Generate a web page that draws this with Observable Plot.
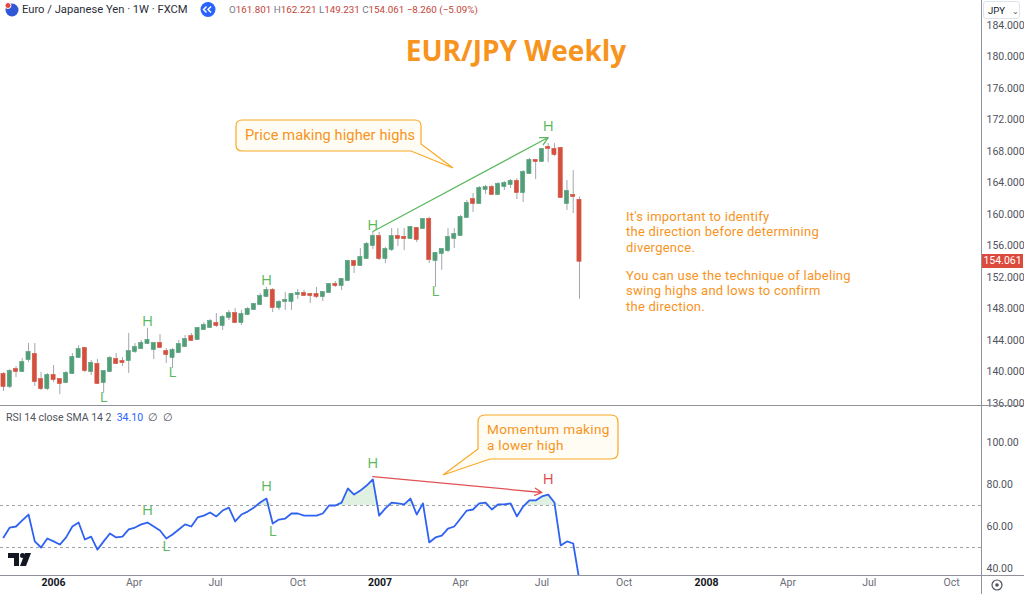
<!DOCTYPE html>
<html>
<head>
<meta charset="utf-8">
<script src="https://cdn.jsdelivr.net/npm/d3@7"></script>
<script src="https://cdn.jsdelivr.net/npm/@observablehq/plot@0.6"></script>
<style>
html,body{margin:0;padding:0;background:#fff;}
#wrap{position:relative;width:1024px;height:594px;overflow:hidden;background:#fff;font-family:Roboto,"Open Sans",sans-serif;}
.abs{position:absolute;white-space:nowrap;}
.note{font-family:Roboto,sans-serif;color:#f7941d;}
</style>
</head>
<body>
<div id="wrap"></div>
<script>
// ---- weekly EUR/JPY candles (Nov 2005 – Aug 2007) ----
const opens = [139.68,138.16,140.31,140.06,141.58,142.22,139.04,137.90,139.55,139.04,
138.66,139.81,141.84,142.98,140.06,140.95,138.66,140.06,141.58,141.33,
141.46,142.60,142.98,143.62,142.85,143.62,142.60,141.84,142.47,143.23,
144.50,144.12,145.39,145.65,146.16,145.90,146.92,147.42,146.28,147.30,
147.93,148.57,149.58,150.35,148.19,148.95,148.95,149.84,149.96,149.84,
149.84,149.58,150.09,151.11,150.98,151.62,154.03,153.52,154.41,156.06,
157.20,154.41,155.55,157.20,157.08,156.95,158.22,158.22,159.36,154.16,
155.04,155.42,156.95,157.33,159.62,161.90,161.39,163.17,163.42,162.54,
163.55,163.81,164.19,162.79,165.20,166.85,166.73,168.50,168.25,168.38,
161.39,162.41,161.801];
const highs = [139.93,140.31,140.70,141.71,143.62,143.62,139.93,139.81,140.82,139.17,
140.06,142.35,143.36,143.11,141.46,141.58,140.19,141.97,142.35,141.84,
144.89,143.62,144.00,145.52,143.74,144.76,142.98,142.98,144.00,144.63,
144.89,145.65,146.28,146.66,147.42,147.17,147.81,148.06,147.81,148.19,
148.70,149.96,150.73,150.60,149.08,150.09,149.96,150.47,150.35,149.96,
150.73,150.22,151.23,151.49,151.87,154.16,154.16,155.68,156.44,157.71,
157.71,155.81,158.22,158.22,158.22,158.47,158.35,159.49,159.62,155.17,
155.68,158.22,158.22,159.87,161.77,162.66,163.55,163.68,163.68,164.06,
164.19,164.44,164.57,165.58,167.11,166.98,168.38,169.01,169.01,168.50,
164.31,165.58,162.221];
const lows = [137.52,137.90,139.30,139.93,141.20,138.16,137.65,137.65,138.66,137.14,
138.54,139.68,141.71,139.93,139.55,138.41,137.27,139.93,140.95,140.70,
139.81,142.35,142.85,143.49,141.58,142.98,141.08,140.44,142.35,143.11,
143.87,144.00,145.27,145.52,145.65,145.27,146.54,146.16,145.90,147.17,
147.81,148.44,149.46,147.55,147.81,147.81,147.81,149.20,149.58,148.70,
149.33,148.95,149.96,150.73,150.35,151.49,152.50,153.39,154.28,155.55,
154.16,153.77,155.30,155.93,155.42,156.82,156.44,158.09,153.77,150.73,
152.89,155.17,155.68,157.20,159.49,160.25,161.27,162.54,162.41,162.41,
163.04,163.30,161.90,161.52,165.08,164.44,166.60,166.60,167.36,162.03,
160.50,160.12,149.231];
const closes = [138.16,140.06,140.06,141.20,142.47,138.79,137.90,139.55,139.04,138.54,
139.81,141.84,142.85,140.19,141.08,138.54,140.06,141.71,141.08,141.20,
142.60,143.11,143.62,144.00,143.62,143.11,142.22,142.73,143.49,144.12,
144.00,145.52,145.90,146.41,145.90,146.92,147.42,146.28,147.30,147.93,
148.57,149.58,150.35,148.19,148.82,149.08,149.84,149.96,149.71,149.71,
149.58,150.09,151.11,150.98,151.74,154.03,153.52,154.54,156.19,157.20,
154.41,155.55,157.20,156.95,156.95,158.35,156.82,159.36,154.28,155.04,
155.55,157.08,157.46,159.62,161.39,161.39,163.30,163.42,162.54,163.81,
163.93,164.19,162.79,165.33,166.85,166.73,168.25,168.38,167.62,162.15,
162.92,162.28,154.061];
// ---- RSI(14) per week ----
const rsi = [54.8,59.5,60.0,62.9,65.7,52.9,50.0,54.3,52.9,51.4,
54.8,60.0,61.9,53.8,55.2,49.0,52.9,56.7,54.8,55.2,
58.6,59.5,61.0,61.9,60.0,58.1,54.3,56.2,58.6,61.0,
60.0,64.3,65.2,66.7,64.8,67.6,69.0,62.4,65.7,67.1,
69.0,71.4,73.3,61.4,63.3,63.8,66.2,66.2,65.2,65.2,
65.2,66.2,70.0,70.0,71.4,78.1,75.2,77.1,79.5,82.4,
65.2,68.6,71.4,71.0,70.5,73.3,65.7,71.0,52.4,54.8,
55.7,59.0,60.0,63.8,67.6,68.1,71.0,71.4,68.1,70.5,
70.5,71.0,64.8,69.5,72.4,72.4,74.3,75.2,71.4,51.0,
52.9,51.9,34.1];
// ---- tick labels ----
const priceTicks = [136,140,144,148,152,156,160,164,168,172,176,180,184];
const rsiTicks = [40,60,80,100];
const rsiBands = [70,50];
const yearTicks = ["2006-01-01","2007-01-01","2008-01-01"];
const monthTicks = ["2006-04-01","2006-07-01","2006-10-01","2007-04-01","2007-07-01","2007-10-01","2008-04-01","2008-07-01","2008-10-01"];
// ---- swing labels (1-based week numbers) ----
const priceHighWeeks = [24,43,60];
const priceTopWeek = [88];
const priceLowWeeks = [17,28,70];
const rsiHighWeeks = [24,43];
const rsiTopWeeks = [60];
const rsiRedWeeks = [88];
const rsiLowWeeks = [27,44];
// ---- divergence trend lines [week, value] ----
const priceTrend = [[60,157.84],[88,169.77]];
const rsiTrend = [[60,83.8],[87,76.2]];
const lastClose = 154.061;
const lastRsi = 34.10;
// ---- annotation texts ----
const noteLines1 = ["It's important to identify","the direction before determining","divergence."];
const noteLines2 = ["You can use the technique of labeling","swing highs and lows to confirm","the direction."];
const calloutPrice = ["Price making higher highs"];
const calloutMomentum = ["Momentum making","a lower high"];

const DAY = 864e5;
const firstWeek = new Date(Date.UTC(2005,10,6));
const bars = opens.map((o,i)=>({date:d3.utcWeek.offset(firstWeek,i),o,h:highs[i],l:lows[i],c:closes[i],r:rsi[i]}));
const wk = n => bars[n-1];
const xDomain = [new Date(+firstWeek - 3.35*DAY), new Date(+firstWeek + 1093.5*DAY)];
const GREEN="#529e79", RED="#d4503e", WICK="#a3a6ae", LG="#5cb860", AXT="#50535e";
const bodyX1 = d=>new Date(+d.date-2.3*DAY), bodyX2 = d=>new Date(+d.date+2.3*DAY);
const up = bars.filter(d=>d.c>=d.o), down = bars.filter(d=>d.c<d.o);
const lbl = {text:()=> "H", fontSize:15, fontFamily:"Open Sans, sans-serif", lineAnchor:"middle"};

const price = Plot.plot({
  width:1024, height:405, marginLeft:0, marginRight:43, marginTop:0, marginBottom:2,
  x:{type:"utc", domain:xDomain, axis:null},
  y:{domain:[136,187.17], axis:null},
  style:{background:"transparent", overflow:"visible", fontFamily:"Roboto, sans-serif"},
  marks:[
    Plot.text(priceTicks,{y:d=>d, frameAnchor:"right", dx:5, textAnchor:"start", text:d=>d.toFixed(3), fill:AXT, fontSize:10.5}),
    Plot.ruleX(bars,{x:"date", y1:"l", y2:"h", stroke:WICK, strokeWidth:1}),
    Plot.rect(up,{x1:bodyX1, x2:bodyX2, y1:"o", y2:"c", fill:GREEN, stroke:GREEN, strokeWidth:0.6, insetTop:-0.5, insetBottom:-0.5}),
    Plot.rect(down,{x1:bodyX1, x2:bodyX2, y1:"o", y2:"c", fill:RED, stroke:RED, strokeWidth:0.6, insetTop:-0.5, insetBottom:-0.5}),
    Plot.arrow([priceTrend],{x1:d=>wk(d[0][0]).date, y1:d=>d[0][1], x2:d=>wk(d[1][0]).date, y2:d=>d[1][1], stroke:"#5cb860", strokeWidth:1.3, headLength:10, headAngle:55}),
    Plot.text(priceHighWeeks.map(wk),{...lbl, x:"date", y:"h", dy:-7, fill:LG}),
    Plot.text(priceTopWeek.map(wk),{...lbl, x:"date", y:"h", dy:-17, fill:LG}),
    Plot.text(priceLowWeeks.map(wk),{...lbl, text:()=>"L", x:"date", y:"l", dy:4, fill:LG})
  ]
});
price.style.position="absolute"; price.style.left="0px"; price.style.top="0px";

const osc = Plot.plot({
  width:1024, height:189, marginLeft:0, marginRight:43, marginTop:0, marginBottom:19,
  x:{type:"utc", domain:xDomain, axis:null},
  y:{domain:[36.67,117.62], axis:null},
  style:{background:"transparent", overflow:"visible", fontFamily:"Roboto, sans-serif"},
  marks:[
    Plot.ruleY(rsiBands,{stroke:"#9598a1", strokeDasharray:"3,3", strokeWidth:0.9}),
    Plot.areaY(bars,{x:"date", y1:()=>70, y2:d=>Math.max(70,d.r), fill:"#66bb6a", fillOpacity:0.2}),
    Plot.lineY(bars,{x:"date", y:"r", stroke:"#2f62f2", strokeWidth:1.8, clip:true}),
    Plot.arrow([rsiTrend],{x1:d=>wk(d[0][0]).date, y1:d=>d[0][1], x2:d=>wk(d[1][0]).date, y2:d=>d[1][1], stroke:"#e05252", strokeWidth:1.3, headLength:9, headAngle:55}),
    Plot.text(rsiHighWeeks.map(wk),{...lbl, x:"date", y:"r", dy:-12, fill:LG}),
    Plot.text(rsiTopWeeks.map(wk),{...lbl, x:"date", y:"r", dy:-16, fill:LG}),
    Plot.text(rsiRedWeeks.map(wk),{...lbl, x:"date", y:"r", dy:-15, fill:"#e04848"}),
    Plot.text(rsiLowWeeks.map(wk),{...lbl, text:()=>"L", x:"date", y:"r", dy:8, fill:LG}),
    Plot.text(rsiTicks,{y:d=>d, frameAnchor:"right", dx:5, textAnchor:"start", text:d=>d.toFixed(2), fill:AXT, fontSize:10.5}),
    Plot.text(yearTicks,{x:d=>new Date(d), frameAnchor:"bottom", dy:10, text:d=>d.slice(0,4), fill:"#131722", fontWeight:"bold", fontSize:10.5}),
    Plot.text(monthTicks,{x:d=>new Date(d), frameAnchor:"bottom", dy:10, text:d=>d3.utcFormat("%b")(new Date(d)), fill:"#6a6d78", fontSize:10.5})
  ]
});
osc.style.position="absolute"; osc.style.left="0px"; osc.style.top="405px";

const wrap = document.getElementById("wrap");
wrap.appendChild(price);
wrap.appendChild(osc);

function add(html){ wrap.insertAdjacentHTML("beforeend", html); }
function lines(arr, left, top, step, style){
  arr.forEach((t,i)=>add(`<div class="abs note" style="left:${left}px;top:${top+i*step}px;${style}">${t}</div>`));
}
// frame lines
add(`<div class="abs" style="left:0;top:405px;width:1024px;height:1px;background:#8f929b"></div>`);
add(`<div class="abs" style="left:0;top:575px;width:1024px;height:1px;background:#8f929b"></div>`);
add(`<div class="abs" style="left:981px;top:0;width:1px;height:594px;background:#8f929b"></div>`);

// last price label
const yLast = price.scale("y").apply(lastClose);
add(`<div class="abs" style="left:982px;top:${yLast-7}px;width:41px;height:14px;background:#dc4a3d;color:#fff;font-size:10.5px;line-height:14px;text-align:center;font-family:Roboto,sans-serif">${lastClose.toFixed(3)}</div>`);
// JPY box
add(`<div class="abs" style="left:983px;top:1px;width:37px;height:18px;background:#fff;border:1px solid #e0e3eb;border-radius:3px;font-size:9.5px;line-height:18px;color:#131722;box-sizing:border-box;padding-left:4px">JPY <span style="font-size:8px;color:#555;margin-left:5px">&#8964;</span></div>`);

// top legend
add(`<svg class="abs" style="left:0;top:0" width="230" height="20">
  <circle cx="12" cy="10" r="6.5" fill="#3057d5"/>
  <circle cx="8" cy="5.5" r="3" fill="#e8453c" stroke="#fff" stroke-width="1"/>
  <circle cx="208" cy="9.5" r="7.5" fill="#2962ff"/>
  <path d="M206.5 6.5 L203.5 9.5 L206.5 12.5 M211 6.5 L208 9.5 L211 12.5" stroke="#fff" stroke-width="1.5" fill="none"/>
</svg>`);
add(`<div class="abs" style="left:22px;top:2px;font-size:11.2px;line-height:15px;color:#2a2e39">Euro / Japanese Yen · 1W · FXCM</div>`);
const o = `<span style="color:#787b86">`;
add(`<div class="abs" style="left:229px;top:3px;font-size:9.8px;line-height:14px;color:#c2463a">${o}O</span>161.801 ${o}H</span>162.221 ${o}L</span>149.231 ${o}C</span>154.061 −8.260 (−5.09%)</div>`);

// RSI legend
add(`<div class="abs" style="left:6px;top:411px;font-size:10.5px;line-height:14px;color:#50535e">RSI 14 close SMA 14 2 &nbsp;<span style="color:#2962ff">${lastRsi.toFixed(2)}</span>&nbsp; ∅ &nbsp;∅</div>`);

// title & notes
add(`<div class="abs" style="left:0;width:1032px;top:30px;text-align:center;font-family:'Open Sans',sans-serif;color:#f7941d;font-size:28px;font-weight:bold;line-height:40px">EUR/JPY Weekly</div>`);
lines(noteLines1, 626, 210, 15.4, "font-size:13px;line-height:14px;letter-spacing:0.25px");
lines(noteLines2, 626, 269, 15.4, "font-size:13px;line-height:14px;letter-spacing:0.25px");

// callouts
add(`<svg class="abs" style="left:0;top:0" width="1024" height="594">
  <path d="M242,120 H415 Q421,120 421,126 V144 L453,168 L411,151 H242 Q236,151 236,145 V126 Q236,120 242,120 Z" fill="#fffcf3" stroke="#f9a825" stroke-width="1.2"/>
  <path d="M485,415 H611 Q618,415 618,422 V452 Q618,459 611,459 H490 L443,475 L478,449 V422 Q478,415 485,415 Z" fill="#fffcf3" stroke="#f9a825" stroke-width="1.2"/>
  <path d="M8,553 H19 V566 H14 V558 H8 Z" fill="#131722"/>
  <circle cx="22.5" cy="555.5" r="2.5" fill="#131722"/>
  <path d="M25,553 H31 L26,566 H20 Z" fill="#131722"/>
  <circle cx="997" cy="585" r="5" fill="none" stroke="#50535e" stroke-width="1.2"/>
  <circle cx="997" cy="585" r="1.8" fill="#50535e"/>
</svg>`);
lines(calloutPrice, 245, 126, 0, "font-size:14.6px;line-height:18px;letter-spacing:0.1px");
lines(calloutMomentum, 487, 422, 16, "font-size:13.6px;line-height:15px;letter-spacing:0.3px");
</script>
</body>
</html>
